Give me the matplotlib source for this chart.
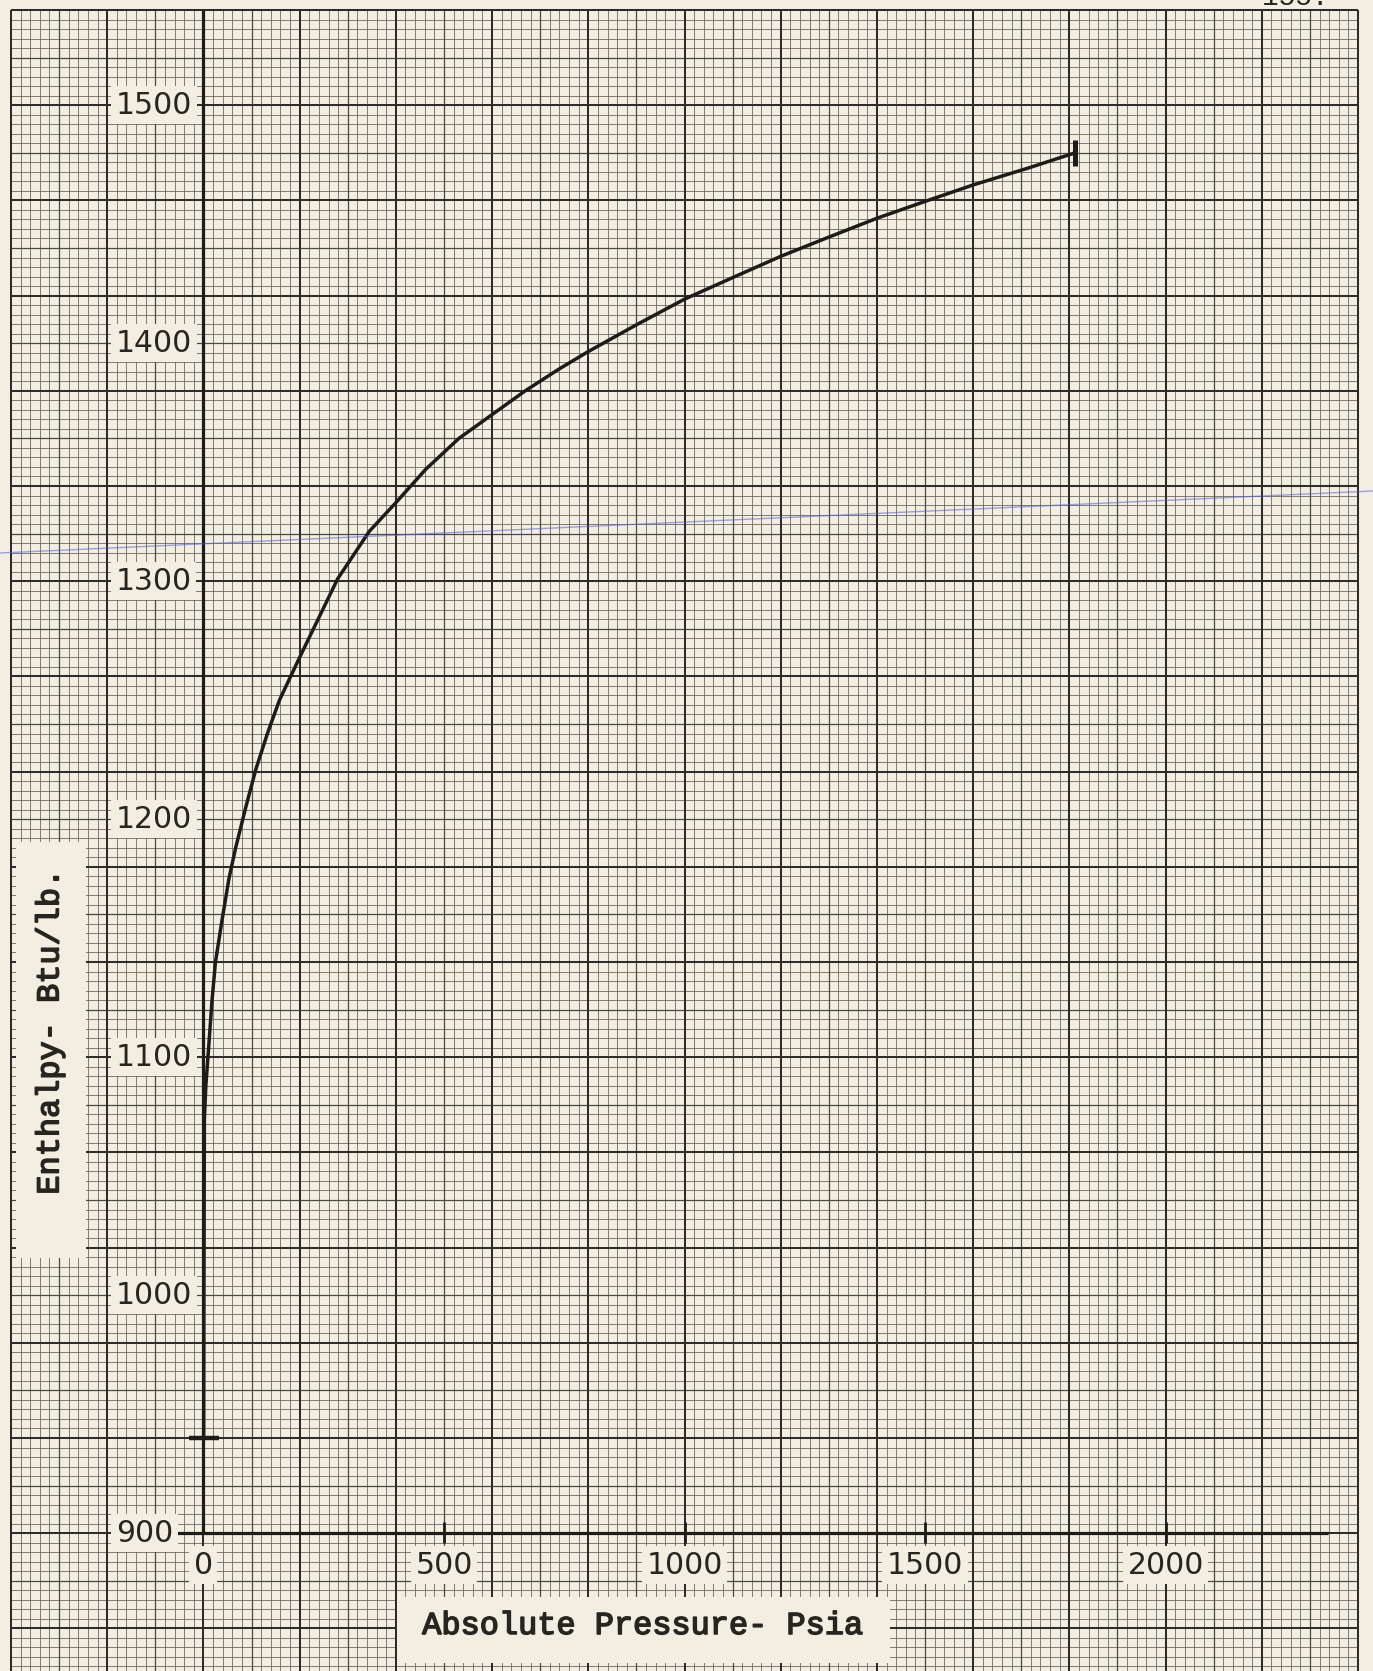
import numpy as np
import matplotlib
matplotlib.use("Agg")
import matplotlib.pyplot as plt
from matplotlib.lines import Line2D
from matplotlib.patches import Rectangle
import matplotlib.patheffects as pe

# Enthalpy of steam along the expansion line vs. absolute pressure
pressure_psia = [0.5, 1, 2, 5, 10.5, 17.5, 25, 39, 53, 67, 88, 109, 133, 158,
                 200, 279, 345, 400, 462, 531, 600, 669, 738, 800, 898, 1000,
                 1105, 1200, 1299, 1400, 1499, 1600, 1713, 1812]
enthalpy_btu = [940, 1000, 1074, 1088, 1103, 1123, 1140, 1158, 1175, 1188,
                1205, 1221, 1236, 1250, 1268, 1301, 1321, 1333, 1347, 1360,
                1370, 1380, 1389, 1396.5, 1407.5, 1418.5, 1428, 1436.5,
                1444.5, 1452.5, 1459.5, 1466.5, 1473.5, 1480]

x_tick_values = [0, 500, 1000, 1500, 2000]
y_tick_values = [900, 1000, 1100, 1200, 1300, 1400, 1500]
x_title = "Absolute Pressure- Psia"
y_title = "Enthalpy- Btu/lb."
page_number = "155."

PAPER = "#f2eee1"
INK = "#1d1c19"
TEXT = "#26251f"

W, H = 1373, 1671
fig = plt.figure(figsize=(W / 100, H / 100), dpi=100, facecolor=PAPER)
ax = fig.add_axes([11 / W, 0, 1347 / W, 1661 / H])
ax.set_facecolor(PAPER)
XMIN, XMAX = -400, 2400
YMIN, YMAX = 842.1, 1540
ax.set_xlim(XMIN, XMAX)
ax.set_ylim(YMIN, YMAX)
for s in ax.spines.values():
    s.set_visible(False)
ax.set_xticks([])
ax.set_yticks([])

# --- graph paper: fine / medium / heavy rulings ---
styles = {
    "fine": dict(colors="#6a6961", linewidths=0.6),
    "mid": dict(colors="#4a4944", linewidths=0.9),
    "heavy": dict(colors="#2d2c28", linewidths=1.45),
}
vx = {"fine": [], "mid": [], "heavy": []}
for v in range(XMIN, XMAX + 1, 20):
    k = v - XMIN
    key = "heavy" if k % 200 == 0 else ("mid" if k % 100 == 0 else "fine")
    vx[key].append(v)
hy = {"fine": [], "mid": [], "heavy": []}
for v in range(YMAX, int(YMIN), -4):
    k = YMAX - v
    key = "heavy" if k % 40 == 0 else ("mid" if k % 20 == 0 else "fine")
    hy[key].append(v)
for key, z in (("fine", 1), ("mid", 1.1), ("heavy", 1.2)):
    ax.vlines(vx[key], YMIN, YMAX, zorder=z, clip_on=False, **styles[key])
    ax.hlines(hy[key], XMIN, XMAX, zorder=z, clip_on=False, **styles[key])

# --- inked axes and tick marks ---
ax.plot([0, 0], [900, YMAX], color=INK, lw=2.3, zorder=2, solid_capstyle="butt")
ax.plot([-60, 2337], [900, 900], color=INK, lw=2.3, zorder=2, solid_capstyle="butt")
ax.vlines(x_tick_values[1:], 896, 904.5, colors=INK, linewidths=2.0, zorder=2)

# --- curve ---
ax.plot(pressure_psia, enthalpy_btu, color=INK, lw=2.5, zorder=3,
        solid_joinstyle="round", solid_capstyle="round")
ax.plot(pressure_psia[0], enthalpy_btu[0], marker="_", ms=22, mew=3.2,
        color=INK, zorder=3)
ax.plot(pressure_psia[-1], enthalpy_btu[-1], marker="|", ms=19, mew=3.6,
        color=INK, zorder=3)

# --- tick labels on white-out patches ---
num_font = dict(family="DejaVu Sans", fontsize=21.5, color=TEXT)
box = dict(boxstyle="square,pad=0.15", fc=PAPER, ec="none")
for v in x_tick_values:
    ax.text(v, 886.6, str(v), ha="center", va="center", zorder=4,
            bbox=box, **num_font)
for v in y_tick_values:
    ax.text(-182, v, str(v), ha="left", va="center", zorder=4,
            bbox=box, **num_font)

# --- typed axis titles on pasted strips ---
title_font = dict(family="Liberation Mono", fontsize=23, color=TEXT,
                  path_effects=[pe.withStroke(linewidth=1.1, foreground=TEXT)])
ax.add_patch(Rectangle((403, 845.5), 1025, 27.7, fc=PAPER, ec="none", zorder=3.5))
ax.text(915, 861, x_title, ha="center", va="center", zorder=4, **title_font)
ax.add_patch(Rectangle((-389, 1015.6), 144, 174.8, fc=PAPER, ec="none", zorder=3.5))
ax.text(-318, 1111, y_title, ha="center", va="center", rotation=90, zorder=4,
        **title_font)

# page number at the top edge, mostly cut off
fig.text(1262 / W, 1 - 5 / H, page_number, ha="left", va="baseline",
         family="Liberation Mono", fontsize=20, color=TEXT)

# faint ruled line across the sheet
fig.add_artist(Line2D([0, 1], [1 - 553 / H, 1 - 491 / H], color="#5a5ae6",
                      lw=1.0, alpha=0.55, transform=fig.transFigure))

fig.savefig("out.png", dpi=100, facecolor=PAPER)
